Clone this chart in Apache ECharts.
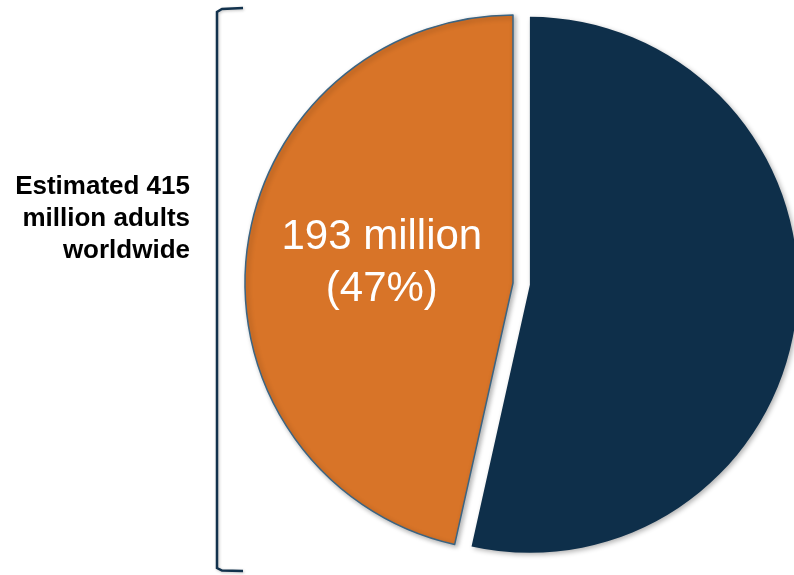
<!DOCTYPE html>
<html>
<head>
<meta charset="utf-8">
<script src="https://cdn.jsdelivr.net/npm/echarts@6/dist/echarts.min.js"></script>
<style>
  html, body { margin: 0; padding: 0; background: #ffffff; }
  #chart { width: 794px; height: 575px; }
</style>
</head>
<body>
<div id="chart"></div>
<script>
// Adults worldwide, in millions
const groups = ['Other adults', 'Adults with condition'];
const values = [222, 193];
const colors = ['#0E2F4A', '#D87428'];
const labelShown = [false, true];

const total = values.reduce((a, b) => a + b, 0);

const chart = echarts.init(document.getElementById('chart'), null, { renderer: 'canvas' });

const data = groups.map((name, i) => ({
  name: name,
  value: values[i],
  selected: i === 0,
  itemStyle: {
    color: colors[i],
    borderColor: i === 1 ? '#3B6482' : colors[i],
    borderWidth: i === 1 ? 1.5 : 0
  },
  label: { show: labelShown[i] }
}));

chart.setOption({
  animation: false,
  graphic: [
    {
      type: 'polyline',
      shape: { points: [[243, 8], [222, 9], [217, 12], [217, 568], [222, 570.5], [243, 571]] },
      style: { stroke: '#12324D', lineWidth: 2.5, fill: null,
               shadowBlur: 3, shadowColor: 'rgba(0,0,0,0.25)', shadowOffsetX: 1, shadowOffsetY: 1 }
    },
    {
      type: 'text',
      x: 190,
      y: 219,
      style: {
        text: 'Estimated ' + total + '\nmillion adults\nworldwide',
        font: 'bold 26px "Liberation Sans", Arial, sans-serif',
        lineHeight: 32,
        fill: '#000000',
        align: 'right',
        verticalAlign: 'middle'
      }
    }
  ],
  series: [{
    type: 'pie',
    center: [513, 283],
    radius: [0, 268],
    startAngle: 90,
    clockwise: true,
    selectedMode: 'single',
    selectedOffset: 17,
    silent: true,
    itemStyle: {
      shadowBlur: 5,
      shadowColor: 'rgba(0,0,0,0.3)',
      shadowOffsetX: 2,
      shadowOffsetY: 2
    },
    label: {
      position: 'inside',
      formatter: p => p.value + ' million\n(' + Math.round(p.percent) + '%)',
      color: '#ffffff',
      fontFamily: '"Liberation Sans", Arial, sans-serif',
      fontSize: 42,
      lineHeight: 52,
      align: 'center',
      offset: [5, -5]
    },
    labelLine: { show: false },
    data: data
  }]
});
</script>
</body>
</html>
